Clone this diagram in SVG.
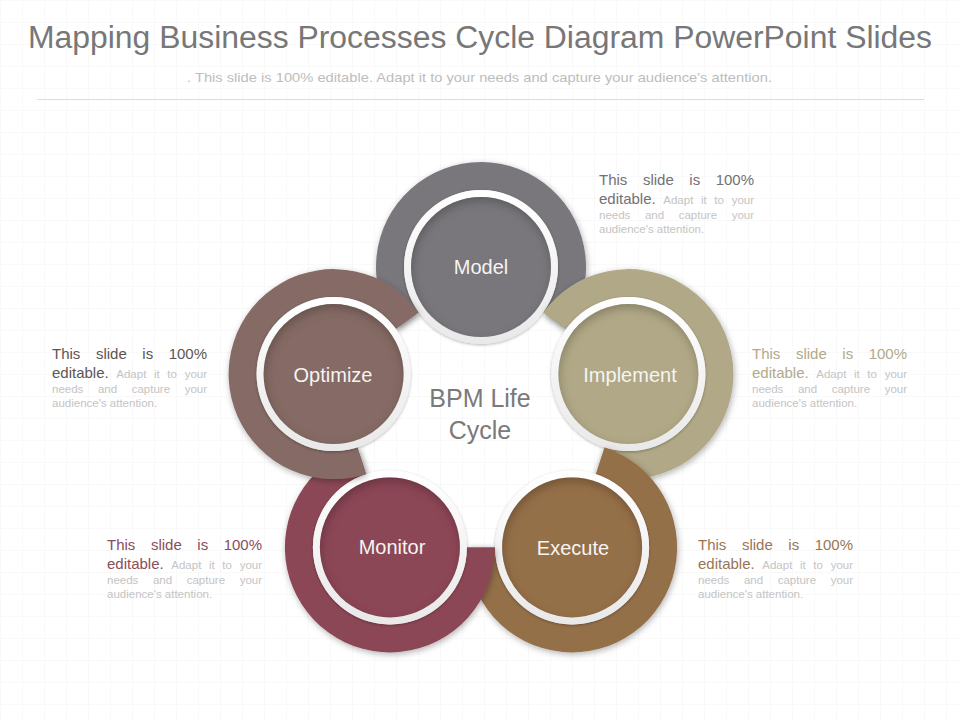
<svg xmlns="http://www.w3.org/2000/svg" width="960" height="720" viewBox="0 0 960 720">
<defs>
  <pattern id="grid" width="22" height="22" patternUnits="userSpaceOnUse">
    <path d="M22 0H0V22" fill="none" stroke="#f3f3f3" stroke-width="1"/>
  </pattern>
  <filter id="drop" x="-20%" y="-20%" width="140%" height="140%">
    <feDropShadow dx="1" dy="2" stdDeviation="3" flood-color="#000" flood-opacity="0.3"/>
  </filter>
  <filter id="ringShadow" x="-20%" y="-20%" width="140%" height="140%">
    <feDropShadow dx="0" dy="1" stdDeviation="1.5" flood-color="#000" flood-opacity="0.3"/>
  </filter>
  <filter id="inset" x="-10%" y="-10%" width="120%" height="120%">
    <feComponentTransfer in="SourceAlpha" result="inv"><feFuncA type="table" tableValues="1 0"/></feComponentTransfer>
    <feGaussianBlur in="inv" stdDeviation="5"/>
    <feOffset dx="1" dy="4" result="s"/>
    <feFlood flood-color="#000" flood-opacity="0.45"/>
    <feComposite in2="s" operator="in"/>
    <feComposite in2="SourceAlpha" operator="in" result="sh"/>
    <feMerge><feMergeNode in="SourceGraphic"/><feMergeNode in="sh"/></feMerge>
  </filter>
  <linearGradient id="ringGrad" x1="0" y1="0" x2="0" y2="1">
    <stop offset="0" stop-color="#ffffff"/>
    <stop offset="1" stop-color="#e9e9e9"/>
  </linearGradient>
</defs>
<style>
  .title{font-family:"Liberation Sans",Arial,sans-serif;font-size:31px;fill:#777777}
  .sub{font-family:"Liberation Sans",Arial,sans-serif;font-size:13px;fill:#bdbdbd}
  .lbl{font-family:"Liberation Sans",Arial,sans-serif;font-size:20px;fill:#f6f4f2;text-anchor:middle}
  .ctr{font-family:"Liberation Sans",Arial,sans-serif;font-size:25px;fill:#7a7a7a;text-anchor:middle}
  .big{font-family:"Liberation Sans",Arial,sans-serif;font-size:15px}
  .sm{font-family:"Liberation Sans",Arial,sans-serif;font-size:11.5px;fill:#c4c4c4}
  .ring{fill:none;stroke:url(#ringGrad);stroke-width:7;filter:url(#ringShadow)}
  .band{filter:url(#drop)}
  .disk{filter:url(#inset)}
</style>
<rect width="960" height="720" fill="#ffffff"/>
<rect width="960" height="720" fill="url(#grid)"/>

<text class="title" x="480" y="48" text-anchor="middle" textLength="904" lengthAdjust="spacingAndGlyphs">Mapping Business Processes Cycle Diagram PowerPoint Slides</text>
<text class="sub" x="479.5" y="82" text-anchor="middle" textLength="585" lengthAdjust="spacingAndGlyphs">. This slide is 100% editable. Adapt it to your needs and capture your audience's attention.</text>
<line x1="37" y1="99.5" x2="924" y2="99.5" stroke="#dcdcdc" stroke-width="1"/>

<g id="node-model">
  <path class="band" fill="#79777c" d="M396.05,328.72 A105,105 0 1 1 565.95,328.72 L543.29,312.26 A77,77 0 1 0 418.71,312.26 Z"/>
  <circle class="ring" cx="481" cy="267" r="73.5"/>
  <circle class="disk" cx="481" cy="267" r="70" fill="#79777c"/>
  <text class="lbl" x="481" y="274">Model</text>
</g>
<g id="node-implement">
  <path class="band" fill="#b0a886" d="M543.46,312.38 A105,105 0 1 1 595.96,473.96 L604.62,447.33 A77,77 0 1 0 566.12,328.84 Z"/>
  <circle class="ring" cx="628.41" cy="374.1" r="73.5"/>
  <circle class="disk" cx="628.41" cy="374.1" r="70" fill="#b0a886"/>
  <text class="lbl" x="630" y="382">Implement</text>
</g>
<g id="node-execute">
  <path class="band" fill="#946f4a" d="M604.56,447.54 A105,105 0 1 1 467.11,547.4 L495.11,547.4 A77,77 0 1 0 595.9,474.17 Z"/>
  <circle class="ring" cx="572.11" cy="547.4" r="73.5"/>
  <circle class="disk" cx="572.11" cy="547.4" r="70" fill="#946f4a"/>
  <text class="lbl" x="573" y="555">Execute</text>
</g>
<g id="node-monitor">
  <path class="band" fill="#8c4657" d="M494.89,547.4 A105,105 0 1 1 357.44,447.54 L366.1,474.17 A77,77 0 1 0 466.89,547.4 Z"/>
  <circle class="ring" cx="389.89" cy="547.4" r="73.5"/>
  <circle class="disk" cx="389.89" cy="547.4" r="70" fill="#8c4657"/>
  <text class="lbl" x="392" y="554">Monitor</text>
</g>
<g id="node-optimize">
  <path class="band" fill="#856b65" d="M366.04,473.96 A105,105 0 1 1 418.54,312.38 L395.88,328.84 A77,77 0 1 0 357.38,447.33 Z"/>
  <circle class="ring" cx="333.59" cy="374.1" r="73.5"/>
  <circle class="disk" cx="333.59" cy="374.1" r="70" fill="#856b65"/>
  <text class="lbl" x="333" y="382">Optimize</text>
</g>

<g id="center-label">
  <text class="ctr" x="480" y="407">BPM Life</text>
  <text class="ctr" x="480" y="439">Cycle</text>
</g>

<g id="text-model" transform="translate(599,185)">
  <text class="big" fill="#727174"><tspan x="0">This</tspan><tspan x="43.9">slide</tspan><tspan x="90.3">is</tspan><tspan x="155" text-anchor="end">100%</tspan></text>
  <text y="19"><tspan class="big" fill="#727174" x="0">editable.</tspan><tspan class="sm" x="64.3">Adapt</tspan><tspan class="sm" x="101.9">it</tspan><tspan class="sm" x="115.3">to</tspan><tspan class="sm" x="155" text-anchor="end">your</tspan></text>
  <text class="sm" y="34"><tspan x="0">needs</tspan><tspan x="45.9">and</tspan><tspan x="79.7">capture</tspan><tspan x="155" text-anchor="end">your</tspan></text>
  <text class="sm" y="48" x="0">audience's attention.</text>
</g>
<g id="text-implement" transform="translate(752,359)">
  <text class="big" fill="#b2aa8a"><tspan x="0">This</tspan><tspan x="43.9">slide</tspan><tspan x="90.3">is</tspan><tspan x="155" text-anchor="end">100%</tspan></text>
  <text y="19"><tspan class="big" fill="#b2aa8a" x="0">editable.</tspan><tspan class="sm" x="64.3">Adapt</tspan><tspan class="sm" x="101.9">it</tspan><tspan class="sm" x="115.3">to</tspan><tspan class="sm" x="155" text-anchor="end">your</tspan></text>
  <text class="sm" y="34"><tspan x="0">needs</tspan><tspan x="45.9">and</tspan><tspan x="79.7">capture</tspan><tspan x="155" text-anchor="end">your</tspan></text>
  <text class="sm" y="48" x="0">audience's attention.</text>
</g>
<g id="text-optimize" transform="translate(52,359)">
  <text class="big" fill="#5e5553"><tspan x="0">This</tspan><tspan x="43.9">slide</tspan><tspan x="90.3">is</tspan><tspan x="155" text-anchor="end">100%</tspan></text>
  <text y="19"><tspan class="big" fill="#5e5553" x="0">editable.</tspan><tspan class="sm" x="64.3">Adapt</tspan><tspan class="sm" x="101.9">it</tspan><tspan class="sm" x="115.3">to</tspan><tspan class="sm" x="155" text-anchor="end">your</tspan></text>
  <text class="sm" y="34"><tspan x="0">needs</tspan><tspan x="45.9">and</tspan><tspan x="79.7">capture</tspan><tspan x="155" text-anchor="end">your</tspan></text>
  <text class="sm" y="48" x="0">audience's attention.</text>
</g>
<g id="text-monitor" transform="translate(107,550)">
  <text class="big" fill="#8a4d5c"><tspan x="0">This</tspan><tspan x="43.9">slide</tspan><tspan x="90.3">is</tspan><tspan x="155" text-anchor="end">100%</tspan></text>
  <text y="19"><tspan class="big" fill="#8a4d5c" x="0">editable.</tspan><tspan class="sm" x="64.3">Adapt</tspan><tspan class="sm" x="101.9">it</tspan><tspan class="sm" x="115.3">to</tspan><tspan class="sm" x="155" text-anchor="end">your</tspan></text>
  <text class="sm" y="34"><tspan x="0">needs</tspan><tspan x="45.9">and</tspan><tspan x="79.7">capture</tspan><tspan x="155" text-anchor="end">your</tspan></text>
  <text class="sm" y="48" x="0">audience's attention.</text>
</g>
<g id="text-execute" transform="translate(698,550)">
  <text class="big" fill="#9a7552"><tspan x="0">This</tspan><tspan x="43.9">slide</tspan><tspan x="90.3">is</tspan><tspan x="155" text-anchor="end">100%</tspan></text>
  <text y="19"><tspan class="big" fill="#9a7552" x="0">editable.</tspan><tspan class="sm" x="64.3">Adapt</tspan><tspan class="sm" x="101.9">it</tspan><tspan class="sm" x="115.3">to</tspan><tspan class="sm" x="155" text-anchor="end">your</tspan></text>
  <text class="sm" y="34"><tspan x="0">needs</tspan><tspan x="45.9">and</tspan><tspan x="79.7">capture</tspan><tspan x="155" text-anchor="end">your</tspan></text>
  <text class="sm" y="48" x="0">audience's attention.</text>
</g>
</svg>
